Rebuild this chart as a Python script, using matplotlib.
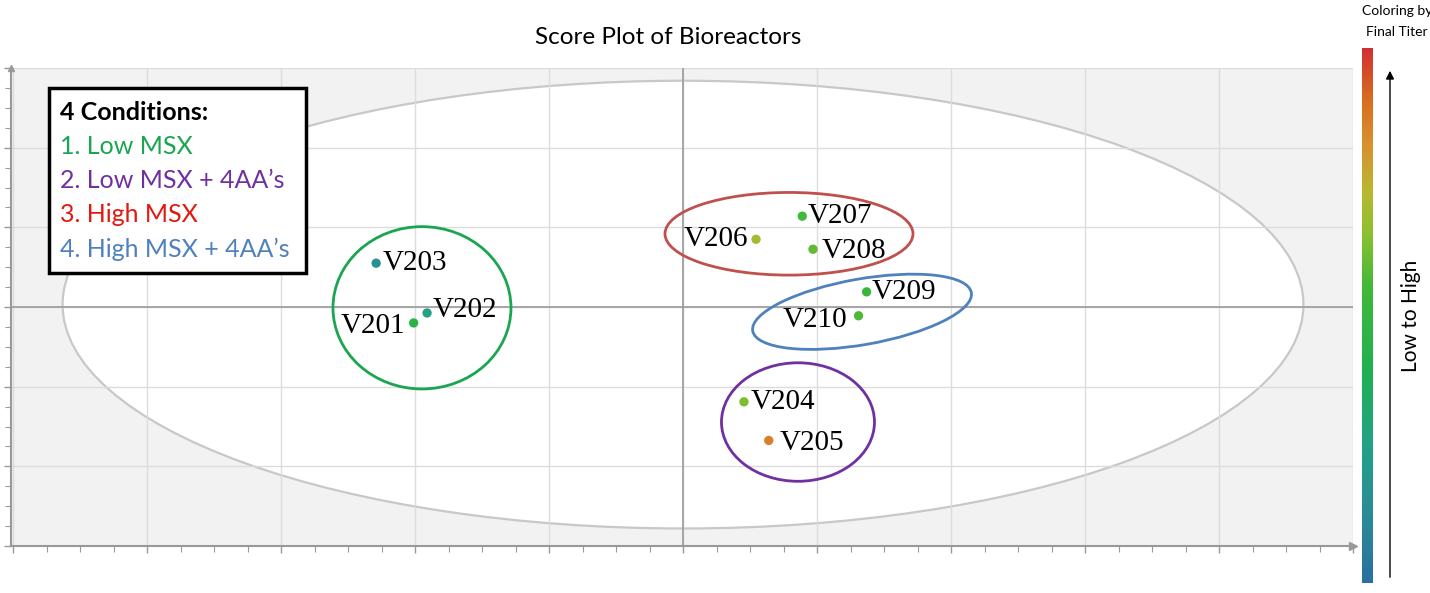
import numpy as np
import matplotlib
matplotlib.use("Agg")
import matplotlib.pyplot as plt
from matplotlib.patches import Ellipse, Rectangle
from matplotlib.colors import LinearSegmentedColormap
from matplotlib.transforms import Affine2D

# score values (t1, t2), titer on a 0-1 scale
names = ["V201", "V202", "V203", "V204", "V205", "V206", "V207", "V208", "V209", "V210"]
t1 = [-2.01, -1.91, -2.29, 0.455, 0.64, 0.545, 0.89, 0.97, 1.37, 1.31]
t2 = [-0.20, -0.075, 0.55, -1.19, -1.675, 0.85, 1.14, 0.725, 0.19, -0.11]
titer = [0.45, 0.26, 0.15, 0.63, 0.86, 0.70, 0.55, 0.59, 0.52, 0.57]

cond_labels = ["1. Low MSX", "2. Low MSX + 4AA\u2019s", "3. High MSX", "4. High MSX + 4AA\u2019s"]
cond_colors = ["#1aa650", "#7030a0", "#e01a10", "#4f81bd"]

W, H = 1430, 593
fig = plt.figure(figsize=(W / 100, H / 100), dpi=100)
ax = fig.add_axes([11 / W, 1 - 546 / H, (1353 - 11) / W, (546 - 68) / H])

ax.set_xlim(-5.015, 5.0)
ax.set_ylim(-3, 2.99)
ax.set_facecolor("#f2f2f2")

# Hotelling ellipse
ax.add_patch(Ellipse((0, 0.03), 2 * 4.63, 2 * 2.81, facecolor="white",
                     edgecolor="#c8c8c8", lw=1.6, zorder=1))

ax.set_xticks(np.arange(-5, 5.01, 1))
ax.set_xticks(np.arange(-5, 5.01, 0.25), minor=True)
ax.set_yticks(np.arange(-3, 3.01, 1))
ax.set_yticks(np.arange(-3, 3.01, 0.25), minor=True)
ax.set_xticklabels([])
ax.set_yticklabels([])
ax.set_axisbelow("line")
ax.grid(True, which="major", color="#dcdcdc", lw=1)
ax.axvline(0, color="#9a9a9a", lw=1.2, zorder=1.6)
ax.axhline(0, color="#9a9a9a", lw=1.2, zorder=1.6)
ax.tick_params(which="both", colors="#999999", direction="out")
ax.tick_params(which="major", length=5, width=1)
ax.tick_params(which="minor", length=4, width=0.8)
for s in ["top", "right"]:
    ax.spines[s].set_visible(False)
for s in ["left", "bottom"]:
    ax.spines[s].set_color("#999999")
    ax.spines[s].set_linewidth(1.5)
ax.plot(0, 1, "^", color="#999999", ms=5, transform=ax.transAxes, clip_on=False)
ax.plot(1, 0, ">", color="#999999", ms=6, transform=ax.transAxes, clip_on=False)

cmap = LinearSegmentedColormap.from_list("titer", [
    (0.0, "#2a6fa0"), (0.12, "#2a8a98"), (0.25, "#22a088"), (0.40, "#20b050"),
    (0.55, "#40b838"), (0.65, "#88c030"), (0.73, "#b8b830"), (0.82, "#d89030"),
    (0.90, "#d87020"), (1.0, "#d03030")])

sc = ax.scatter(t1, t2, c=titer, cmap=cmap, vmin=0, vmax=1, s=45,
                edgecolors="none", zorder=5)

# label offsets in points
offs = [(-6, -2), (4, 2), (5, 0), (5, 0), (8, -2), (-6, 0), (4, 0), (6, -1), (4, 0), (-8, -3)]
for n, x, y, o in zip(names, t1, t2, offs):
    ax.annotate(n, (x, y), xytext=o, textcoords="offset points",
                ha="left" if o[0] > 0 else "right", va="center",
                family="Liberation Serif", fontsize=21, color="black", zorder=6)

# group ellipses, sizes in pixels -> data units
def ring(cx, cy, w, h, ang, col):
    e = Ellipse((0, 0), w, h, angle=ang, fill=False, edgecolor=col, lw=2)
    e.set_transform(Affine2D().scale(1 / 134, 1 / 80).translate(cx, cy) + ax.transData)
    e.set_zorder(4)
    ax.add_patch(e)

ring(-1.948, -0.01, 178, 163, 0, cond_colors[0])
ring(0.858, -1.444, 153, 119, 0, cond_colors[1])
ring(0.791, 0.919, 248, 83, 0, "#c0504d")
ring(1.336, -0.06, 222, 66, 10, cond_colors[3])

# conditions box
fig.add_artist(Rectangle((49 / W, 1 - 273 / H), (306 - 49) / W, (273 - 88) / H,
                         transform=fig.transFigure, facecolor="white",
                         edgecolor="black", lw=2.5, zorder=10))
fig.text(60 / W, 1 - 113 / H, "4 Conditions:", fontsize=18, fontweight="bold",
         family="Lato", va="center", zorder=11)
for i, (lab, col) in enumerate(zip(cond_labels, cond_colors)):
    fig.text(60 / W, 1 - (146 + 34.3 * i) / H, lab, fontsize=18, color=col,
             family="Lato", va="center", zorder=11)

fig.text(668 / W, 1 - 38 / H, "Score Plot of Bioreactors", fontsize=17.5,
         family="Lato", ha="center", va="center")

# colour bar
cax = fig.add_axes([1362 / W, 1 - 583 / H, 11 / W, (583 - 48) / H])
cb = fig.colorbar(sc, cax=cax)
cb.set_ticks([])
cb.outline.set_visible(False)
fig.text(1397 / W, 1 - 11 / H, "Coloring by", fontsize=10, family="Lato",
         ha="center", va="center")
fig.text(1397 / W, 1 - 32 / H, "Final Titer", fontsize=10, family="Lato",
         ha="center", va="center")
fig.add_artist(plt.Annotation("", xy=(1390 / W, 1 - 68 / H), xytext=(1390 / W, 1 - 580 / H),
                              xycoords="figure fraction", textcoords="figure fraction",
                              arrowprops=dict(arrowstyle="-|>", color="black", lw=1,
                                              mutation_scale=12)))
fig.text(1411 / W, 1 - 316 / H, "Low to High", fontsize=15, family="Lato",
         rotation=90, ha="center", va="center")

fig.savefig("out.png", dpi=100)
